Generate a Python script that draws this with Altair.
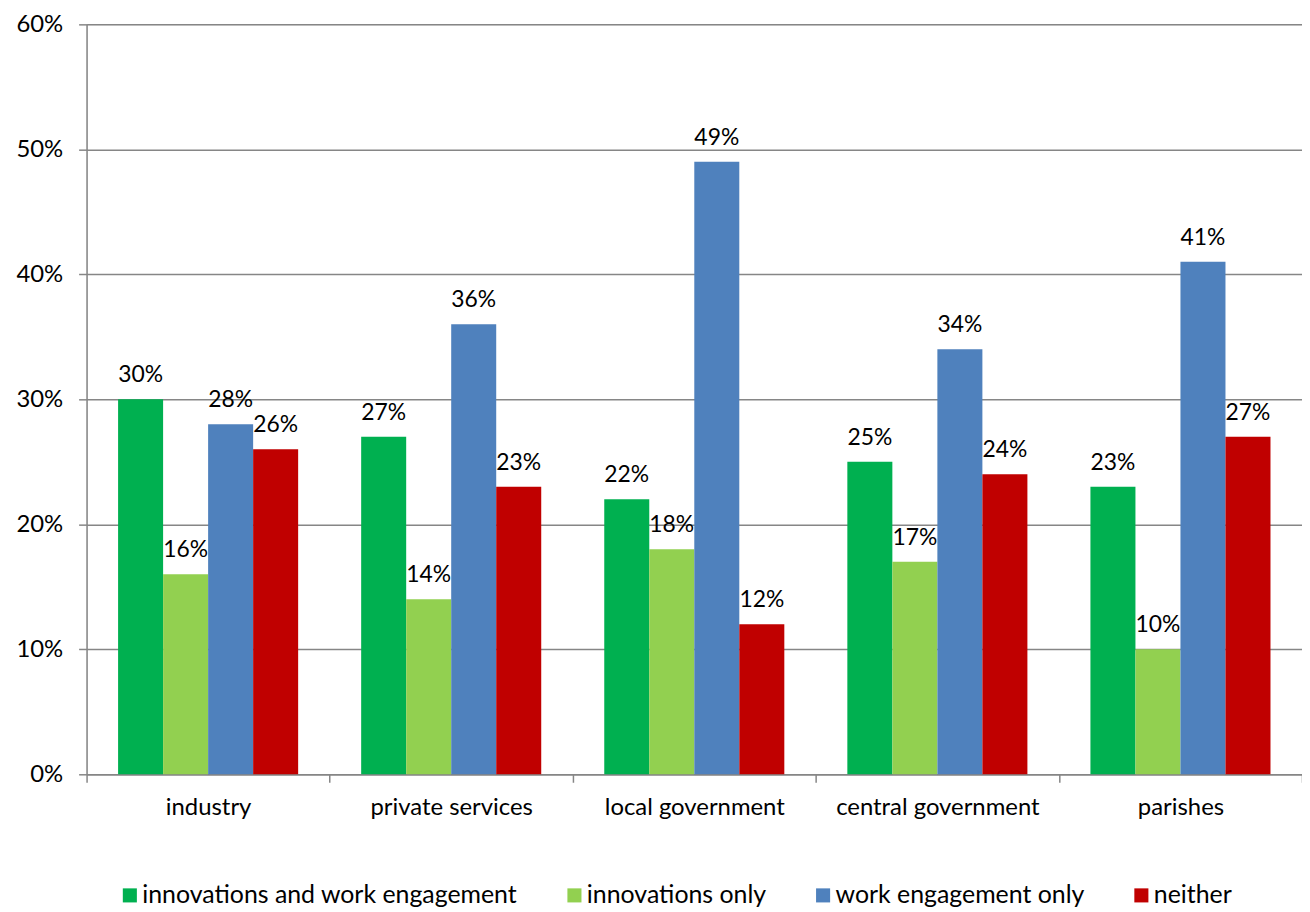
import altair as alt
import pandas as pd

categories = ["industry", "private services", "local government", "central government", "parishes"]
series = ["innovations and work engagement", "innovations only", "work engagement only", "neither"]
colors = ["#00B050", "#92D050", "#4F81BD", "#C00000"]

innov_and_work = [30, 27, 22, 25, 23]
innov_only = [16, 14, 18, 17, 10]
work_only = [28, 36, 49, 34, 41]
neither = [26, 23, 12, 24, 27]

rows = []
for s, vals in zip(series, [innov_and_work, innov_only, work_only, neither]):
    for c, v in zip(categories, vals):
        rows.append({"category": c, "series": s, "value": v})
df = pd.DataFrame(rows)

FONT = "Lato"

x = alt.X("category:N", sort=categories, title=None,
          scale=alt.Scale(paddingInner=0, paddingOuter=0),
          axis=alt.Axis(labelAngle=0, labelFontSize=24, labelColor="#000000", labelFont=FONT,
                        labelLimit=400,
                        tickColor="#868686", tickSize=8, tickWidth=1.5, tickBand="extent",
                        domainColor="#868686", domainWidth=1.5, labelPadding=13, grid=False))
xo = alt.XOffset("series:N", sort=series, scale=alt.Scale(paddingInner=0, paddingOuter=0.7))
y = alt.Y("value:Q", title=None,
          scale=alt.Scale(domain=[0, 60]),
          axis=alt.Axis(values=[0, 10, 20, 30, 40, 50, 60], labelExpr="datum.value + '%'",
                        labelFontSize=24, labelColor="#000000", labelFont=FONT, labelPadding=16,
                        tickColor="#868686", tickSize=8, tickWidth=1.5,
                        domainColor="#868686", domainWidth=1.5,
                        grid=True, gridColor="#868686", gridWidth=1.5))

color = alt.Color("series:N", sort=series,
                  scale=alt.Scale(domain=series, range=colors),
                  legend=alt.Legend(title=None, orient="none", direction="horizontal",
                                    legendX=31, legendY=863, columns=4, columnPadding=44,
                                    symbolType="square", symbolSize=200, symbolStrokeWidth=0,
                                    symbolOpacity=1, labelFontSize=25, labelFont=FONT,
                                    labelColor="#000000", labelLimit=600, symbolOffset=0,
                                    labelOffset=0))

bars = alt.Chart(df).mark_bar(opacity=1).encode(x=x, xOffset=xo, y=y, color=color)

text = alt.Chart(df).transform_calculate(label="datum.value + '%'").mark_text(
    font=FONT, fontSize=23, color="#000000", baseline="alphabetic", dy=-17
).encode(x=alt.X("category:N", sort=categories), xOffset=xo, y="value:Q", text="label:N")

chart = alt.layer(bars, text).properties(
    width=1222, height=754,
    autosize=alt.AutoSizeParams(type="none"),
    padding={"left": 79, "top": 14, "right": 0, "bottom": 136},
).configure_view(stroke=None).configure(font=FONT)

chart.save("out.html", embed_options={"renderer": "svg", "actions": False})
